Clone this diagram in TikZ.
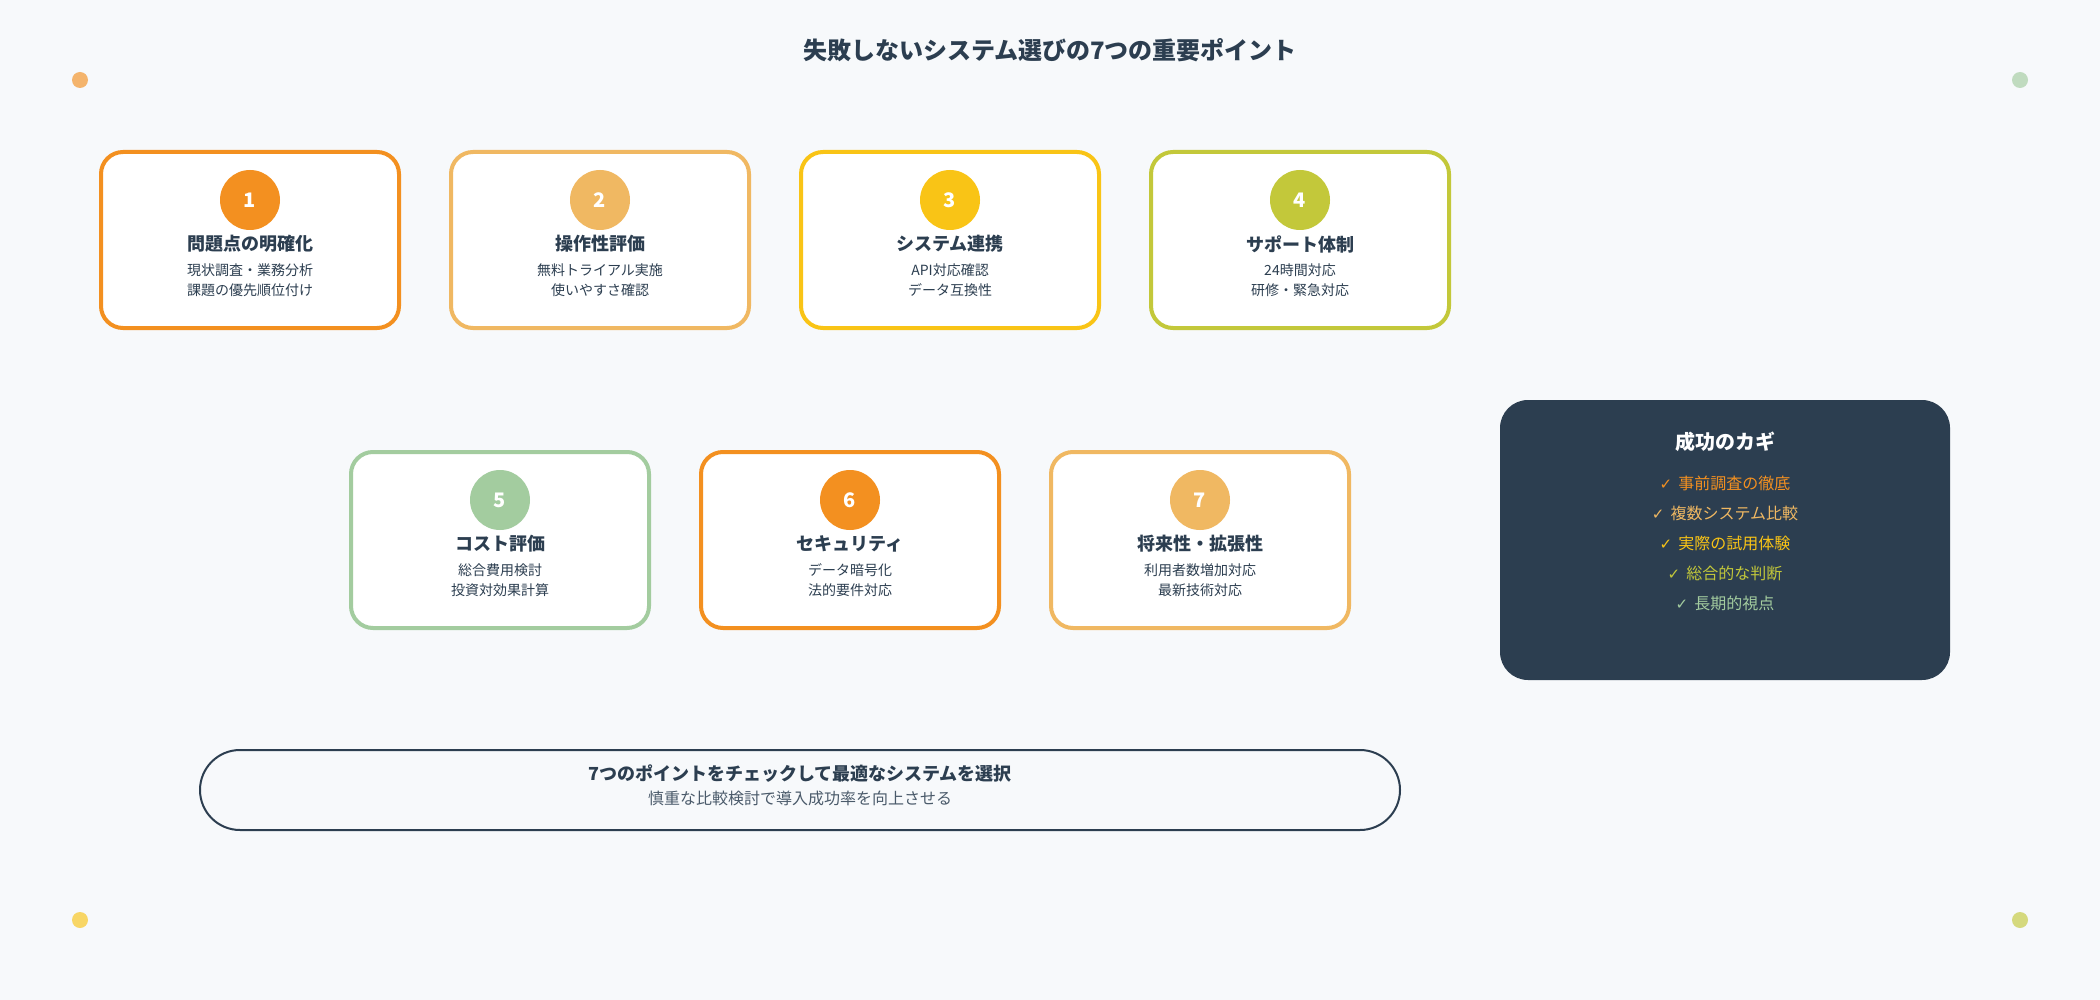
\documentclass[tikz,border=0pt]{standalone}
\usepackage{fontspec}
\setmainfont{Noto Sans CJK JP}
\newfontfamily\symfont{DejaVu Sans}
\usetikzlibrary{calc, shapes, backgrounds, positioning}

\definecolor{bgcol}{HTML}{F7F9FB}
\definecolor{darkcol}{HTML}{2C3E50}
\definecolor{subcol}{HTML}{4A5A6A}
\definecolor{orangeA}{HTML}{F39020}
\definecolor{orangeB}{HTML}{F0B862}
\definecolor{yellowC}{HTML}{F9C416}
\definecolor{limeD}{HTML}{C3C83A}
\definecolor{greenE}{HTML}{A3CC9F}

\tikzset{
  pointbox/.style={draw, fill=white, line width=4pt, rounded corners=22pt,
    minimum width=298pt, minimum height=176pt},
  numdot/.style={circle, fill, minimum size=60pt, inner sep=0pt,
    text=white, font=\fontsize{20}{22}\selectfont\bfseries},
  ptitle/.style={text=darkcol, font=\fontsize{18}{20}\selectfont\bfseries},
  pdesc/.style={text=darkcol, align=center, font=\fontsize{14}{20}\selectfont},
  cornerdot/.style={circle, fill, fill opacity=0.65, minimum size=16pt, inner sep=0pt},
  keyitem/.style={font=\fontsize{16}{18}\selectfont},
}
\newcommand{\chk}{{\symfont\fontsize{15}{16}\selectfont ✓}\hspace{6pt}}

\begin{document}
\begin{tikzpicture}[x=1pt, y=-1pt]
  \fill[bgcol] (0,0) rectangle (2100,1000);

  % title
  \node[text=darkcol, font=\fontsize{24}{28}\selectfont\bfseries] (title) at (1050,50)
    {失敗しないシステム選びの7つの重要ポイント};

  % corner dots
  \node[cornerdot, fill=orangeA] (dotTL) at (80,80) {};
  \node[cornerdot, fill=greenE] (dotTR) at (2020,80) {};
  \node[cornerdot, fill=yellowC] (dotBL) at (80,920) {};
  \node[cornerdot, fill=limeD] (dotBR) at (2020,920) {};

  % first row
  \node[pointbox, draw=orangeA] (box1) at (250,240) {};
  \node[numdot, fill=orangeA] (num1) at (250,200) {1};
  \node[ptitle] (ttl1) at (250,244) {問題点の明確化};
  \node[pdesc] (desc1) at (250,280) {現状調査・業務分析\\課題の優先順位付け};

  \node[pointbox, draw=orangeB] (box2) at (600,240) {};
  \node[numdot, fill=orangeB] (num2) at (600,200) {2};
  \node[ptitle] (ttl2) at (600,244) {操作性評価};
  \node[pdesc] (desc2) at (600,280) {無料トライアル実施\\使いやすさ確認};

  \node[pointbox, draw=yellowC] (box3) at (950,240) {};
  \node[numdot, fill=yellowC] (num3) at (950,200) {3};
  \node[ptitle] (ttl3) at (950,244) {システム連携};
  \node[pdesc] (desc3) at (950,280) {API対応確認\\データ互換性};

  \node[pointbox, draw=limeD] (box4) at (1300,240) {};
  \node[numdot, fill=limeD] (num4) at (1300,200) {4};
  \node[ptitle] (ttl4) at (1300,244) {サポート体制};
  \node[pdesc] (desc4) at (1300,280) {24時間対応\\研修・緊急対応};

  % second row
  \node[pointbox, draw=greenE] (box5) at (500,540) {};
  \node[numdot, fill=greenE] (num5) at (500,500) {5};
  \node[ptitle] (ttl5) at (500,544) {コスト評価};
  \node[pdesc] (desc5) at (500,580) {総合費用検討\\投資対効果計算};

  \node[pointbox, draw=orangeA] (box6) at (850,540) {};
  \node[numdot, fill=orangeA] (num6) at (850,500) {6};
  \node[ptitle] (ttl6) at (850,544) {セキュリティ};
  \node[pdesc] (desc6) at (850,580) {データ暗号化\\法的要件対応};

  \node[pointbox, draw=orangeB] (box7) at (1200,540) {};
  \node[numdot, fill=orangeB] (num7) at (1200,500) {7};
  \node[ptitle] (ttl7) at (1200,544) {将来性・拡張性};
  \node[pdesc] (desc7) at (1200,580) {利用者数増加対応\\最新技術対応};

  % success keys
  \node[fill=darkcol, rounded corners=28pt, minimum width=450pt, minimum height=280pt] (keys) at (1725,540) {};
  \node[text=white, font=\fontsize{20}{22}\selectfont\bfseries] (keyttl) at (1725,442) {成功のカギ};
  \node[keyitem, text=orangeA] (key1) at (1725,483) {\chk 事前調査の徹底};
  \node[keyitem, text=orangeB] (key2) at (1725,513) {\chk 複数システム比較};
  \node[keyitem, text=yellowC] (key3) at (1725,543) {\chk 実際の試用体験};
  \node[keyitem, text=limeD] (key4) at (1725,573) {\chk 総合的な判断};
  \node[keyitem, text=greenE] (key5) at (1725,603) {\chk 長期的視点};

  % bottom summary
  \node[draw=darkcol, line width=2pt, rounded corners=40pt, minimum width=1200pt, minimum height=80pt] (summary) at (800,790) {};
  \node[text=darkcol, font=\fontsize{18}{20}\selectfont\bfseries] (sumttl) at (800,774) {7つのポイントをチェックして最適なシステムを選択};
  \node[text=subcol, font=\fontsize{16}{18}\selectfont] (sumsub) at (800,798) {慎重な比較検討で導入成功率を向上させる};
\end{tikzpicture}
\end{document}
